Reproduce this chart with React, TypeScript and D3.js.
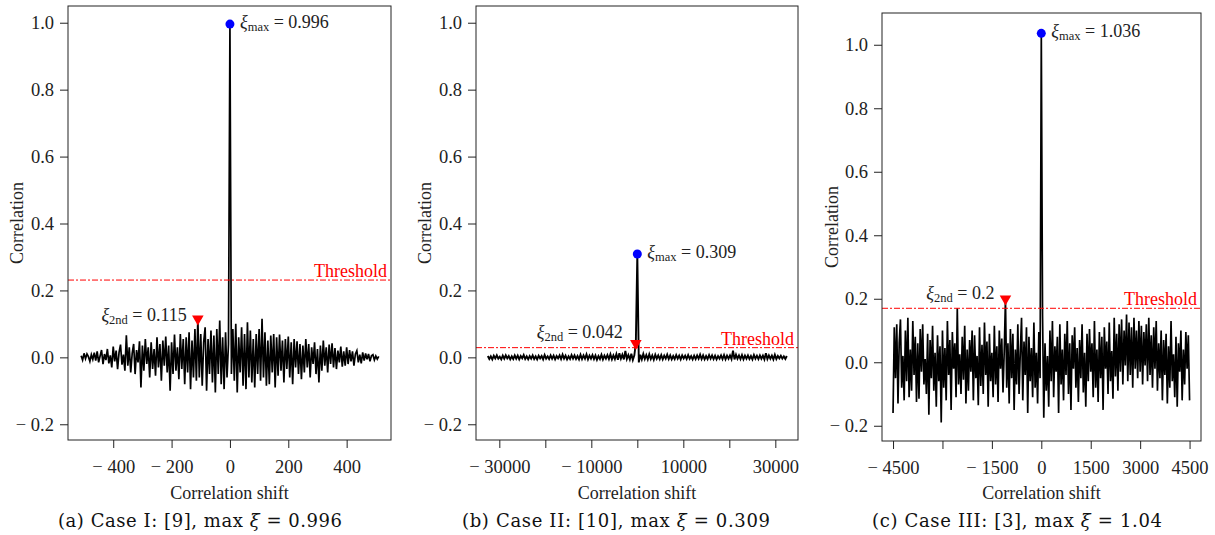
import React, { useEffect, useRef } from 'react';
import * as d3 from 'd3';

const FONT = "'Liberation Serif', serif";
const CAPFONT = "'DejaVu Serif', serif";

// correlation per shift, panel (a): shifts -510..510, step 5
const startA = -510, stepA = 5;
const corrA = [
  .005, -.008, .012, -.004, .010, .002, -.012, .008, -.006, .014, -.010,
  .018, -.015, .004, .022, -.020, .010, -.008, .025, -.018, .006,
  -.030, .032, -.012, .020, -.035, .015, .038, -.022, .008, -.040,
  .066, -.025, .030, -.045, .012, .040, -.050, .022, -.015, .048,
  -.090, .035, -.040, .055, -.020, .030, -.060, .045, -.035, .025,
  -.055, .060, -.030, .040, -.070, .050, -.025, .062, -.045, .035,
  -.100, .045, -.050, .068, -.040, .030, -.065, .070, -.035, .055,
  -.080, .060, -.045, .075, -.095, .050, -.060, .085, -.070, .115,
  -.060, .070, -.085, .045, .090, -.100, .055, -.050, .080, -.075,
  .065, -.105, .085, -.050, .110, -.080, .060, -.095, .075, -.060, .040,
  .996,
  -.050, .085, -.070, .100, -.105, .060, -.045, .090, -.085, .070,
  -.095, .105, -.060, .080, -.075, .055, -.090, .070, -.050, .085,
  -.070, .115, -.060, .075, -.085, .050, -.080, .065, -.045, .070,
  -.090, .060, -.055, .068, -.040, .050, -.075, .055, -.035, .062,
  -.060, .045, -.080, .055, -.030, .048, -.050, .040, -.065, .035,
  -.045, .055, -.030, .040, -.060, .030, -.020, .045, -.050, .025,
  -.075, .035, -.040, .050, -.025, .030, -.045, .038, -.020, .042,
  -.030, .028, -.035, .020, -.015, .032, -.028, .018, -.025, .030,
  -.020, .022, -.012, .018, -.025, .010, .020, -.015, .008, -.018,
  .015, -.010, .012, -.006, .010, -.012, .005, .008, -.008, .004, -.005, .003
];

// panel (b): shifts -32500..32500, step 325
const startB = -32500, stepB = 325;
const corrB = [
  .004, -.005, .003, -.006, .005, -.003, .006, -.004, .002, -.006, .005, -.004, .006, -.003, .004, -.006, .003, -.005, .006, -.004,
  .005, -.006, .004, -.003, .007, -.005, .003, -.006, .004, -.004, .006, -.005, .003, -.006, .005, -.003, .004, -.006, .007, -.004,
  .003, -.005, .006, -.004, .005, -.006, .004, -.003, .006, -.005, .008, -.004, .005, -.006, .003, -.005, .007, -.004, .006, -.005,
  .004, -.006, .008, -.005, .006, -.004, .009, -.006, .005, -.004, .007, -.005, .006, -.007, .004, -.005, .008, -.006, .005, -.004,
  .007, -.005, .009, -.006, .006, -.005, .010, -.007, .012, -.004, .008, -.006, .019, -.005, .007, -.006, .011, -.008, .006,
  .042, .309,
  -.015, .008, -.006, .010, -.005, .007, -.006, .009, -.005, .006, -.007, .008, -.004, .006, -.005, .007, -.006, .005, -.004, .008,
  -.005, .006, -.006, .004, -.005, .007, -.004, .005, -.006, .006, -.003, .005, -.005, .007, -.004, .004, -.006, .005, -.005, .006,
  -.004, .008, -.005, .006, -.006, .004, -.005, .007, -.004, .006, -.005, .005, -.006, .004, -.004, .006, -.005, .007, -.006, .005,
  -.004, .006, -.005, .020, -.006, .008, -.004, .006, -.005, .007, -.006, .005, -.004, .006, -.005, .004, -.006, .007, -.004, .005,
  -.005, .006, -.004, .005, -.006, .012, -.005, .006, -.004, .005, -.006, .008, -.005, .004, -.003, .005, -.004, .003, -.005, .004
];

// panel (c): shifts -4500..4500, step 37.5
const startC = -4500, stepC = 37.5;
const corrC = [
  -.160, .110, -.050, .120, -.130, .060, .135, -.080, .020, -.120, .100, -.060, .140, -.110, .040, -.090, .130, -.040, .080, -.125,
  .060, -.115, .105, -.030, .120, -.070, .010, -.100, .090, -.165, .070, -.050, .115, -.090, .030, -.140, .085, -.060, .050, -.190,
  .100, -.080, .045, -.120, .130, -.040, .070, -.150, .095, -.020, .060, -.110, .170, -.070, .025, -.100, .080, -.055, .115, -.130,
  .040, -.090, .070, -.030, .100, -.120, .085, -.050, .020, -.135, .110, -.075, .055, -.100, .125, -.040, .065, -.140, .090, -.060,
  .030, -.110, .115, -.070, .050, -.125, .100, -.020, .075, -.095, .035, .200, -.080, .060, -.130, .105, -.050, .090, -.150, .040,
  -.070, .120, -.100, .030, .140, -.120, .065, -.040, .110, -.160, .080, -.060, .045, -.110, .125, -.080, .030, -.130, .095, -.050,
  1.036,
  .150, -.175, .060, -.090, .020, -.140, .100, -.060, .130, -.110, .050, -.030, .080, -.160, .120, -.070, .040, -.120, .090, -.040,
  .130, -.100, .060, -.150, .085, -.020, .110, -.080, .045, -.125, .070, -.050, .120, -.095, .030, -.140, .090, -.060, .105, -.030,
  .060, -.110, .130, -.080, .040, -.125, .095, -.050, .080, -.150, .110, -.020, .065, -.100, .125, -.060, .035, -.115, .140, -.045,
  .090, -.090, .120, -.030, .135, -.070, .100, -.010, .150, -.060, .125, -.040, .110, -.080, .140, -.020, .100, -.050, .130, -.030,
  .115, -.070, .095, -.010, .120, -.060, .140, -.040, .085, -.080, .110, -.020, .130, -.090, .060, -.050, .100, -.120, .070, -.040,
  .090, -.130, .050, -.080, .130, -.060, .025, -.110, .080, -.140, .060, -.030, .100, -.120, .040, -.070, .095, -.020, .085, -.120
];

const thresholds = [0.231, 0.029, 0.17];
const maxLabels = ['0.996', '0.309', '1.036'];
const secondShifts = [-110, -325, -1087.5];
const secondValues = [0.115, 0.042, 0.2];
const secondLabels = ['0.115', '0.042', '0.2'];
const captions = [
  ['(a) Case I: [9], max ', '0.996'],
  ['(b) Case II: [10], max ', '0.309'],
  ['(c) Case III: [3], max ', '1.04']
];

const yTicks = [-0.2, 0, 0.2, 0.4, 0.6, 0.8, 1.0];
const xTicksA = [-400, -200, 0, 200, 400];
const xLabelsA = ['− 400', '− 200', '0', '200', '400'];
const xTicksB = [-30000, -20000, -10000, 0, 10000, 20000, 30000];
const xLabelsB = ['− 30000', '', '− 10000', '', '10000', '', '30000'];
const xTicksC = [-4500, -3000, -1500, 0, 1500, 3000, 4500];
const xLabelsC = ['− 4500', '', '− 1500', '0', '1500', '3000', '4500'];

const panels = [
  { data: corrA, start: startA, step: stepA, xTicks: xTicksA, xLabels: xLabelsA,
    left: 68, right: 391, top: 6, bottom: 440, xDomain: [-555, 552], yDomain: [-0.247, 1.05],
    ylabX: 23, capX: 200, capW: 284, lineW: 1.7, secDx: -11, secDy: 2 },
  { data: corrB, start: startB, step: stepB, xTicks: xTicksB, xLabels: xLabelsB,
    left: 476, right: 798, top: 6, bottom: 440, xDomain: [-35070, 34930], yDomain: [-0.247, 1.05],
    ylabX: 431, capX: 616, capW: 308, lineW: 1.9, secDx: -13, secDy: -5 },
  { data: corrC, start: startC, step: stepC, xTicks: xTicksC, xLabels: xLabelsC,
    left: 882, right: 1201, top: 13, bottom: 441, xDomain: [-4835, 4847], yDomain: [-0.248, 1.1],
    ylabX: 838, capX: 1017, capW: 290, lineW: 1.7, secDx: -11, secDy: 0 }
];

function xiLabel(sel, sub, rest) {
  sel.append('tspan').style('font-style', 'italic').text('ξ');
  sel.append('tspan').style('font-size', '12.5px').attr('dy', 3).text(sub);
  sel.append('tspan').attr('dy', -3).text(' = ' + rest);
}

function Panel({ p, k }) {
  const ref = useRef(null);
  useEffect(() => {
    const g = d3.select(ref.current);
    g.selectAll('*').remove();
    const x = d3.scaleLinear().domain(p.xDomain).range([p.left, p.right]);
    const y = d3.scaleLinear().domain(p.yDomain).range([p.bottom, p.top]);
    const shift = i => p.start + i * p.step;
    const txt = (sel, size) => sel.style('font-family', FONT).style('font-size', size + 'px');

    // series
    const line = d3.line().x((d, i) => x(shift(i))).y(d => y(d));
    g.append('path').attr('d', line(p.data)).attr('fill', 'none')
      .attr('stroke', '#000').attr('stroke-width', p.lineW);

    // threshold
    g.append('line').attr('x1', p.left).attr('x2', p.right)
      .attr('y1', y(thresholds[k])).attr('y2', y(thresholds[k]))
      .attr('stroke', '#ff0000').attr('stroke-width', 1).attr('stroke-dasharray', '6 2 2 2');
    g.append('text').attr('x', p.right - 4).attr('y', y(thresholds[k]) - 3)
      .attr('text-anchor', 'end').attr('fill', '#ff0000').call(txt, 18).text('Threshold');

    // frame
    g.append('rect').attr('x', p.left).attr('y', p.top)
      .attr('width', p.right - p.left).attr('height', p.bottom - p.top)
      .attr('fill', 'none').attr('stroke', '#222').attr('stroke-width', 1);

    // axes
    const xa = g.append('g').attr('transform', `translate(0,${p.bottom})`)
      .call(d3.axisBottom(x).tickValues(p.xTicks).tickFormat((d, i) => p.xLabels[i])
        .tickSize(8).tickPadding(12).tickSizeOuter(0));
    const ya = g.append('g').attr('transform', `translate(${p.left},0)`)
      .call(d3.axisLeft(y).tickValues(yTicks)
        .tickFormat(d => (d < 0 ? '− ' + d3.format('.1f')(-d) : d3.format('.1f')(d)))
        .tickSize(8).tickPadding(6).tickSizeOuter(0));
    [xa, ya].forEach(a => {
      a.select('.domain').remove();
      a.attr('color', '#222');
      a.selectAll('text').call(txt, 18.5);
    });

    // titles
    g.append('text').attr('x', (p.left + p.right) / 2).attr('y', 499)
      .attr('text-anchor', 'middle').attr('fill', '#222').call(txt, 18).text('Correlation shift');
    g.append('text').attr('transform', `translate(${p.ylabX},${(p.top + p.bottom) / 2}) rotate(-90)`)
      .attr('text-anchor', 'middle').attr('fill', '#222').call(txt, 18).text('Correlation');

    // max marker
    const mi = d3.maxIndex(p.data);
    const mx = x(shift(mi)), my = y(p.data[mi]);
    g.append('circle').attr('cx', mx).attr('cy', my).attr('r', 4.5).attr('fill', '#0000ff');
    g.append('text').attr('x', mx + 10).attr('y', my + 4).attr('fill', '#222').call(txt, 18)
      .call(xiLabel, 'max', maxLabels[k]);

    // second marker
    const sx = x(secondShifts[k]), sy = y(secondValues[k]);
    g.append('path').attr('d', d3.symbol(d3.symbolTriangle, 58)())
      .attr('transform', `translate(${sx},${sy}) rotate(180)`).attr('fill', '#ff0000');
    g.append('text').attr('x', sx + p.secDx).attr('y', sy + p.secDy).attr('text-anchor', 'end')
      .attr('fill', '#222').call(txt, 18).call(xiLabel, '2nd', secondLabels[k]);

    // caption
    const cap = g.append('text').attr('x', p.capX).attr('y', 527).attr('text-anchor', 'middle')
      .attr('fill', '#111').style('font-family', CAPFONT).style('font-size', '18px')
      .attr('textLength', p.capW).attr('lengthAdjust', 'spacing');
    cap.append('tspan').text(captions[k][0]);
    cap.append('tspan').style('font-style', 'italic').text('ξ');
    cap.append('tspan').text(' = ' + captions[k][1]);
  }, [p, k]);
  return <g ref={ref} />;
}

export default function App() {
  return (
    <div>
      <style>{'body{margin:0}'}</style>
      <svg width={1215} height={535} style={{ display: 'block', background: '#fff' }}>
        {panels.map((p, k) => <Panel key={k} p={p} k={k} />)}
      </svg>
    </div>
  );
}
